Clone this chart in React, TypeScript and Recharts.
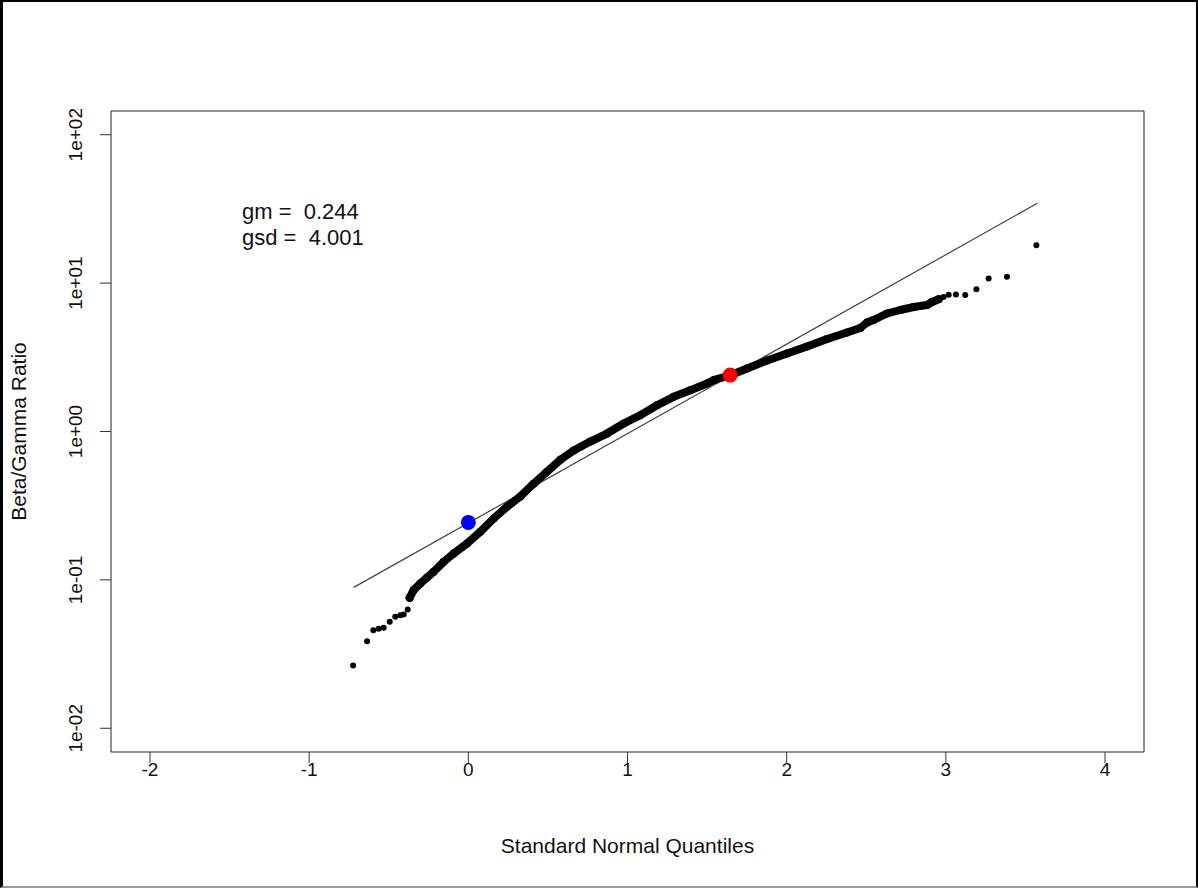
import React from "react";
import {
  ComposedChart,
  Line,
  Scatter,
  XAxis,
  YAxis,
  ReferenceArea,
} from "recharts";

const FONT = "'Liberation Sans', Arial, sans-serif";

// axis setup (R style: range extended by 4%)
const xDomain = [-2.245, 4.245];
const yDomain = [0.00692, 144.5];
const xTicks = [-2, -1, 0, 1, 2, 3, 4];
const yTicks = [0.01, 0.1, 1, 10, 100];

// lower tail - single points
const lowTailZ = [-0.724, -0.636, -0.597, -0.564, -0.532, -0.494, -0.459, -0.427, -0.406, -0.381];
const lowTailRatio = [0.0265, 0.0386, 0.0458, 0.0468, 0.0475, 0.0522, 0.0564, 0.0578, 0.0585, 0.0632];

// dense run of points (reads as a thick band)
const bandZ = [
  -0.369, -0.344, -0.302, -0.259, -0.218, -0.155, -0.092, -0.008, 0.075, 0.159,
  0.243, 0.327, 0.41, 0.494, 0.578, 0.662, 0.766, 0.871, 0.976, 1.081,
  1.186, 1.29, 1.395, 1.5, 1.541, 1.646, 1.751, 1.877, 2.002, 2.128,
  2.254, 2.379, 2.463, 2.505, 2.546, 2.63, 2.714, 2.798, 2.882, 2.913, 2.955,
];
const bandRatio = [
  0.0757, 0.0853, 0.0946, 0.1038, 0.1135, 0.1324, 0.1507, 0.1758, 0.2109, 0.2594,
  0.311, 0.365, 0.445, 0.535, 0.645, 0.745, 0.855, 0.969, 1.132, 1.288,
  1.504, 1.713, 1.898, 2.106, 2.217, 2.395, 2.658, 3.009, 3.354, 3.74,
  4.201, 4.647, 4.982, 5.427, 5.641, 6.24, 6.589, 6.902, 7.12, 7.459, 7.79,
];

// upper tail - single points
const highTailZ = [2.986, 3.018, 3.063, 3.122, 3.192, 3.269, 3.384, 3.569];
const highTailRatio = [8.06, 8.342, 8.381, 8.316, 9.097, 10.74, 11.02, 17.99];

// fitted lognormal line (gm, gsd)
const fitZ = [-0.72, 3.575];
const fitRatio = [0.089, 34.5];

// gm point (blue) and 95th percentile (red)
const markerZ = [0, 1.645];
const markerRatio = [0.244, 2.4];
const markerColors = ["#0000ff", "#ff0000"];

const gm = "0.244";
const gsd = "4.001";

const zip = (zs: number[], rs: number[]) => zs.map((z, i) => ({ z, ratio: rs[i] }));

const lowTail = zip(lowTailZ, lowTailRatio);
const band = zip(bandZ, bandRatio);
const highTail = zip(highTailZ, highTailRatio);
const fitLine = zip(fitZ, fitRatio);

const fmtExp = (v: number) => {
  const e = Math.round(Math.log10(v));
  const s = e < 0 ? "-" : "+";
  return "1e" + s + String(Math.abs(e)).padStart(2, "0");
};

const XTick = (props: any) => {
  const { x, y, payload } = props;
  return (
    <text x={x} y={y + 11} textAnchor="middle" fontSize={19} fill="#111" fontFamily={FONT}>
      {payload.value}
    </text>
  );
};

const YTick = (props: any) => {
  const { x, y, payload } = props;
  const ax = x - 16;
  return (
    <text
      x={ax}
      y={y}
      transform={`rotate(-90, ${ax}, ${y})`}
      textAnchor="middle"
      fontSize={19}
      fill="#111"
      fontFamily={FONT}
    >
      {fmtExp(payload.value)}
    </text>
  );
};

const dot = (r: number, color: string) => (p: any) =>
  <circle cx={p.cx} cy={p.cy} r={r} fill={color} />;

export default function App() {
  return (
    <div
      style={{
        position: "absolute",
        left: 0,
        top: 0,
        width: 1198,
        height: 888,
        background: "#fff",
      }}
    >
      <ComposedChart
        width={1198}
        height={888}
        margin={{ top: 111, right: 54, bottom: 36, left: 11 }}
      >
        <XAxis
          type="number"
          dataKey="z"
          domain={xDomain}
          ticks={xTicks}
          allowDataOverflow
          axisLine={false}
          tickSize={11}
          tickLine={{ stroke: "#333" }}
          tick={<XTick />}
          height={100}
          label={{
            content: (p: any) => {
              const vb = p.viewBox;
              return (
                <text
                  x={vb.x + vb.width / 2}
                  y={vb.y + 101}
                  textAnchor="middle"
                  fontSize={21}
                  fill="#111"
                  fontFamily={FONT}
                >
                  Standard Normal Quantiles
                </text>
              );
            },
          }}
        />
        <YAxis
          type="number"
          dataKey="ratio"
          scale="log"
          domain={yDomain}
          ticks={yTicks}
          allowDataOverflow
          axisLine={false}
          tickSize={11}
          tickLine={{ stroke: "#333" }}
          tick={<YTick />}
          width={100}
          label={{
            content: (p: any) => {
              const vb = p.viewBox;
              const ax = vb.x + 15;
              const ay = vb.y + vb.height / 2;
              return (
                <text
                  x={ax}
                  y={ay}
                  transform={`rotate(-90, ${ax}, ${ay})`}
                  textAnchor="middle"
                  fontSize={21}
                  fill="#111"
                  fontFamily={FONT}
                >
                  Beta/Gamma Ratio
                </text>
              );
            },
          }}
        />
        <ReferenceArea
          x1={xDomain[0]}
          x2={xDomain[1]}
          y1={yDomain[0]}
          y2={yDomain[1]}
          fill="none"
          stroke="#222"
          strokeWidth={1}
        />
        <Line
          data={fitLine}
          dataKey="ratio"
          type="linear"
          stroke="#444"
          strokeWidth={1.2}
          dot={false}
          activeDot={false}
          isAnimationActive={false}
        />
        <Line
          data={band}
          dataKey="ratio"
          type="linear"
          stroke="#000"
          strokeWidth={8}
          strokeLinecap="round"
          strokeLinejoin="round"
          dot={false}
          activeDot={false}
          isAnimationActive={false}
        />
        <Scatter data={band} dataKey="ratio" shape={dot(4, "#000")} isAnimationActive={false} />
        <Scatter data={lowTail} dataKey="ratio" shape={dot(3, "#000")} isAnimationActive={false} />
        <Scatter data={highTail} dataKey="ratio" shape={dot(3, "#000")} isAnimationActive={false} />
        {markerZ.map((z, i) => (
          <Scatter
            key={i}
            data={[{ z, ratio: markerRatio[i] }]}
            dataKey="ratio"
            shape={dot(7.5, markerColors[i])}
            isAnimationActive={false}
          />
        ))}
      </ComposedChart>

      <div
        style={{
          position: "absolute",
          left: 242,
          top: 199,
          fontFamily: FONT,
          fontSize: 22,
          lineHeight: "26px",
          color: "#111",
          whiteSpace: "pre",
        }}
      >
        <div>{"gm =  " + gm}</div>
        <div>{"gsd =  " + gsd}</div>
      </div>

      <div
        style={{
          position: "absolute",
          left: 0,
          top: 0,
          width: 1198,
          height: 888,
          boxSizing: "border-box",
          borderTop: "2px solid #000",
          borderLeft: "3px solid #000",
          borderRight: "2px solid #000",
          borderBottom: "2px solid #999",
          pointerEvents: "none",
        }}
      />
    </div>
  );
}
